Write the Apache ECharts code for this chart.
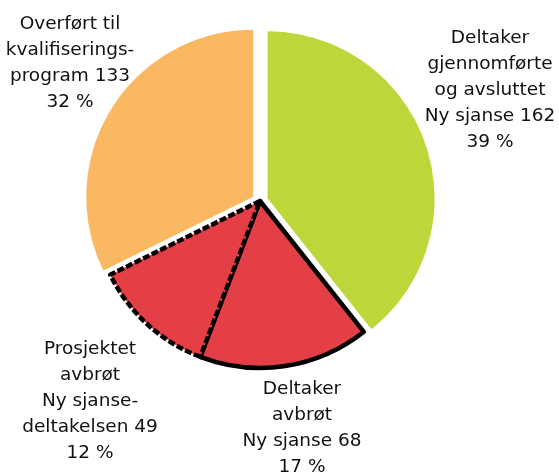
<!DOCTYPE html>
<html>
<head>
<meta charset="utf-8">
<script src="https://cdn.jsdelivr.net/npm/echarts@6/dist/echarts.min.js"></script>
<style>
  html, body { margin: 0; padding: 0; background: #fff; }
  #chart { width: 559px; height: 473px; }
</style>
</head>
<body>
<div id="chart"></div>
<script>
// kategorier og verdier, med klokka fra toppen
const names = [
  'Deltaker\ngjennomførte\nog avsluttet\nNy sjanse',
  'Deltaker\navbrøt\nNy sjanse',
  'Prosjektet\navbrøt\nNy sjanse-\ndeltakelsen',
  'Overført til\nkvalifiserings-\nprogram'
];
const values = [162, 68, 49, 133];
const colors = ['#bfd63b', '#e43e47', '#e43e47', '#fbb862'];

// plassering av etikettene (senter av tekstblokken)
const labelPos = [[490, 90], [302, 428], [90, 401], [70, 63]];

const borders = [
  { borderWidth: 0 },
  { borderWidth: 4.5, borderColor: '#000', borderType: 'solid' },
  { borderWidth: 4.5, borderColor: '#000', borderType: [7, 2.5] },
  { borderWidth: 0 }
];
const exploded = [true, false, false, true];

const chart = echarts.init(document.getElementById('chart'), null, { renderer: 'canvas' });

const pieBase = {
  type: 'pie',
  center: [260, 201],
  radius: 167,
  startAngle: 90,
  clockwise: true,
  avoidLabelOverlap: false,
  emphasis: { disabled: true }
};

chart.setOption({
  backgroundColor: '#fff',
  animation: false,
  series: [
    // sektorene, to av dem trukket ut
    Object.assign({}, pieBase, {
      selectedMode: 'multiple',
      selectedOffset: 8,
      label: { show: false },
      labelLine: { show: false },
      data: values.map((v, i) => ({
        name: names[i],
        value: v,
        selected: exploded[i],
        itemStyle: Object.assign({ color: colors[i], borderRadius: 0 }, borders[i])
      }))
    }),
    // usynlig kopi som bare bærer etikettene (select-state flytter ellers etikettene)
    Object.assign({}, pieBase, {
      silent: true,
      itemStyle: { color: 'transparent', borderWidth: 0 },
      label: {
        show: true,
        position: 'outside',
        color: '#111',
        fontFamily: 'DejaVu Sans',
        fontSize: 18.5,
        lineHeight: 26,
        align: 'center',
        formatter: p => p.name + ' ' + p.value + '\n' + Math.round(p.percent) + ' %'
      },
      labelLine: { show: false },
      labelLayout: p => ({
        x: labelPos[p.dataIndex][0],
        y: labelPos[p.dataIndex][1],
        align: 'center',
        verticalAlign: 'middle'
      }),
      data: values.map((v, i) => ({ name: names[i], value: v }))
    })
  ]
});
</script>
</body>
</html>
